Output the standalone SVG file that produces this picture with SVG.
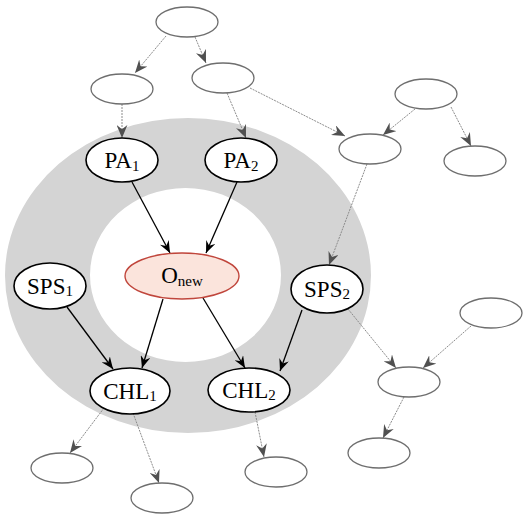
<svg xmlns="http://www.w3.org/2000/svg" width="524" height="522" viewBox="0 0 524 522">
<defs>
<style>
.bg{fill:#ffffff}
.ring{fill:#d4d4d4;fill-rule:evenodd}
.gn{fill:#ffffff;stroke:#6e6e6e;stroke-width:1.3}
.bn{fill:#ffffff;stroke:#000000;stroke-width:1.6}
.rn{fill:#fbe4dc;stroke:#c0463c;stroke-width:1.4}
.ge{fill:none;stroke:#8c8c8c;stroke-width:1;stroke-dasharray:2,1}
.be{fill:none;stroke:#000000;stroke-width:1.3}
.lbl{font-family:"Liberation Serif","Times New Roman",serif;font-size:23px;fill:#000;text-anchor:middle}
.sub{font-size:15px}
</style>
<marker id="ab" viewBox="0 0 12 10" markerWidth="12" markerHeight="10" refX="12" refY="5" orient="auto" markerUnits="userSpaceOnUse">
<path d="M0,0 L12,5 L0,10 L4,5 z" fill="#000"/>
</marker>
<marker id="ag" viewBox="0 0 12 10" markerWidth="13" markerHeight="11" refX="12" refY="5" orient="auto" markerUnits="userSpaceOnUse">
<path d="M0,0 L12,5 L0,10 L4,5 z" fill="#505050"/>
</marker>
</defs>
<rect class="bg" x="0" y="0" width="524" height="522"/>
<path class="ring" d="M5,275.5 A183,157.5 0 1 0 371,275.5 A183,157.5 0 1 0 5,275.5 Z M90,275 A95.5,87 0 1 0 281,275 A95.5,87 0 1 0 90,275 Z"/>
<g id="connectors">
<line class="ge" x1="166" y1="36" x2="135" y2="73" marker-end="url(#ag)"/>
<line class="ge" x1="195" y1="37" x2="206" y2="63" marker-end="url(#ag)"/>
<line class="ge" x1="122" y1="104" x2="122" y2="138" marker-end="url(#ag)"/>
<line class="ge" x1="227" y1="93" x2="246" y2="138" marker-end="url(#ag)"/>
<line class="ge" x1="250" y1="88" x2="345" y2="136" marker-end="url(#ag)"/>
<line class="ge" x1="415" y1="109" x2="383" y2="135" marker-end="url(#ag)"/>
<line class="ge" x1="451" y1="107" x2="471" y2="146" marker-end="url(#ag)"/>
<line class="ge" x1="367" y1="164" x2="329" y2="265" marker-end="url(#ag)"/>
<line class="ge" x1="348" y1="309" x2="396" y2="368" marker-end="url(#ag)"/>
<line class="ge" x1="471" y1="326" x2="423" y2="368" marker-end="url(#ag)"/>
<line class="ge" x1="404" y1="397" x2="383" y2="438" marker-end="url(#ag)"/>
<line class="ge" x1="255" y1="412" x2="264" y2="457" marker-end="url(#ag)"/>
<line class="ge" x1="104" y1="408" x2="70" y2="453" marker-end="url(#ag)"/>
<line class="ge" x1="133" y1="413" x2="159" y2="483" marker-end="url(#ag)"/>
<line class="be" x1="132" y1="182" x2="170" y2="253" marker-end="url(#ab)"/>
<line class="be" x1="237" y1="182" x2="206" y2="253" marker-end="url(#ab)"/>
<line class="be" x1="67" y1="307" x2="113" y2="369" marker-end="url(#ab)"/>
<line class="be" x1="163" y1="299" x2="142" y2="368" marker-end="url(#ab)"/>
<line class="be" x1="203" y1="298" x2="245" y2="368" marker-end="url(#ab)"/>
<line class="be" x1="302" y1="310" x2="280" y2="371" marker-end="url(#ab)"/>
</g>
<g id="n_top"><ellipse class="gn" cx="187" cy="22" rx="31" ry="15"/></g>
<g id="n_l1"><ellipse class="gn" cx="122" cy="89" rx="31" ry="15"/></g>
<g id="n_r1"><ellipse class="gn" cx="223" cy="78" rx="31" ry="15"/></g>
<g id="n_far1"><ellipse class="gn" cx="426" cy="94" rx="31" ry="15"/></g>
<g id="n_mid"><ellipse class="gn" cx="370" cy="149" rx="31" ry="15"/></g>
<g id="n_far2"><ellipse class="gn" cx="475" cy="161" rx="31" ry="15"/></g>
<g id="n_far3"><ellipse class="gn" cx="491" cy="313" rx="31" ry="15"/></g>
<g id="n_sink"><ellipse class="gn" cx="409" cy="382" rx="31" ry="15"/></g>
<g id="n_sink2"><ellipse class="gn" cx="379" cy="453" rx="31" ry="15"/></g>
<g id="n_c2out"><ellipse class="gn" cx="276" cy="472" rx="31" ry="15"/></g>
<g id="n_c1out1"><ellipse class="gn" cx="62" cy="468" rx="31" ry="15"/></g>
<g id="n_c1out2"><ellipse class="gn" cx="162" cy="498" rx="31" ry="15"/></g>
<g id="PA1"><ellipse class="bn" cx="122" cy="160" rx="36" ry="22"/><text class="lbl" x="122" y="168">PA<tspan class="sub" dy="3">1</tspan></text></g>
<g id="PA2"><ellipse class="bn" cx="241" cy="160" rx="36" ry="22"/><text class="lbl" x="241" y="168">PA<tspan class="sub" dy="3">2</tspan></text></g>
<g id="O_new"><ellipse class="rn" cx="182" cy="276" rx="57" ry="23"/><text class="lbl" x="182" y="283">O<tspan class="sub" dy="3">new</tspan></text></g>
<g id="SPS1"><ellipse class="bn" cx="50" cy="286" rx="36" ry="23"/><text class="lbl" x="50" y="294">SPS<tspan class="sub" dy="2">1</tspan></text></g>
<g id="SPS2"><ellipse class="bn" cx="327" cy="289" rx="36" ry="24"/><text class="lbl" x="327" y="297">SPS<tspan class="sub" dy="2">2</tspan></text></g>
<g id="CHL1"><ellipse class="bn" cx="130" cy="391" rx="40" ry="23"/><text class="lbl" x="130" y="399">CHL<tspan class="sub" dy="2">1</tspan></text></g>
<g id="CHL2"><ellipse class="bn" cx="249" cy="390" rx="41" ry="22"/><text class="lbl" x="249" y="398">CHL<tspan class="sub" dy="2">2</tspan></text></g>
</svg>
